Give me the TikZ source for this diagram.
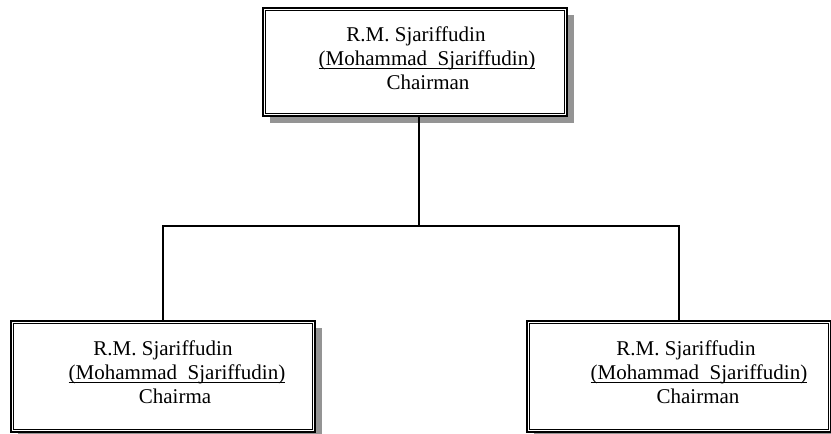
\documentclass[tikz,border=0pt]{standalone}
\usepackage{fontspec}
\setmainfont{Liberation Serif}
\usetikzlibrary{shadows}
\begin{document}
\begin{tikzpicture}[x=1pt,y=-1pt,
  orgbox/.style={draw, line width=2.4pt, fill=white, inner sep=0pt,
    minimum width=304pt,
    drop shadow={shadow xshift=7pt,shadow yshift=-7pt,fill=black!42,opacity=1}},
  innerframe/.style={line width=1.1pt},
  txt/.style={anchor=base, inner sep=0pt, font=\fontsize{21pt}{24pt}\selectfont},
  conn/.style={line width=1.5pt},
  uline/.style={line width=0.9pt}]
\useasboundingbox (0,0) rectangle (831,434);

% boxes
\node[orgbox, minimum height=107.6pt] (chair) at (415,62) {};
\node[orgbox, minimum height=110.6pt] (boxL) at (163,376.5) {};
\node[orgbox, minimum height=110.6pt] (boxR) at (679,376.5) {};

\foreach \n in {chair,boxL,boxR}
  \draw[innerframe] ([shift={(3.6pt,-3.6pt)}]\n.north west) rectangle ([shift={(-3.6pt,3.6pt)}]\n.south east);

% texts
\node[txt] (c1) at (416,41) {R.M. Sjariffudin};
\node[txt] (c2) at (427,65) {(Mohammad\ \ Sjariffudin)};
\node[txt] (c3) at (428,89) {Chairman};

\node[txt] (l1) at (163,355) {R.M. Sjariffudin};
\node[txt] (l2) at (177,379) {(Mohammad\ \ Sjariffudin)};
\node[txt] (l3) at (175,403) {Chairma};

\node[txt] (r1) at (686,355) {R.M. Sjariffudin};
\node[txt] (r2) at (699,379) {(Mohammad\ \ Sjariffudin)};
\node[txt] (r3) at (698,403) {Chairman};

\foreach \n in {c2,l2,r2}
  \draw[uline] ([yshift=-3.5pt]\n.base west) -- ([yshift=-3.5pt]\n.base east);

% connectors
\coordinate (junc) at (419,226);
\draw[conn] (chair.south -| junc) -- (junc);
\draw[conn] (boxL.north) |- (junc) -| (boxR.north);
\end{tikzpicture}
\end{document}
